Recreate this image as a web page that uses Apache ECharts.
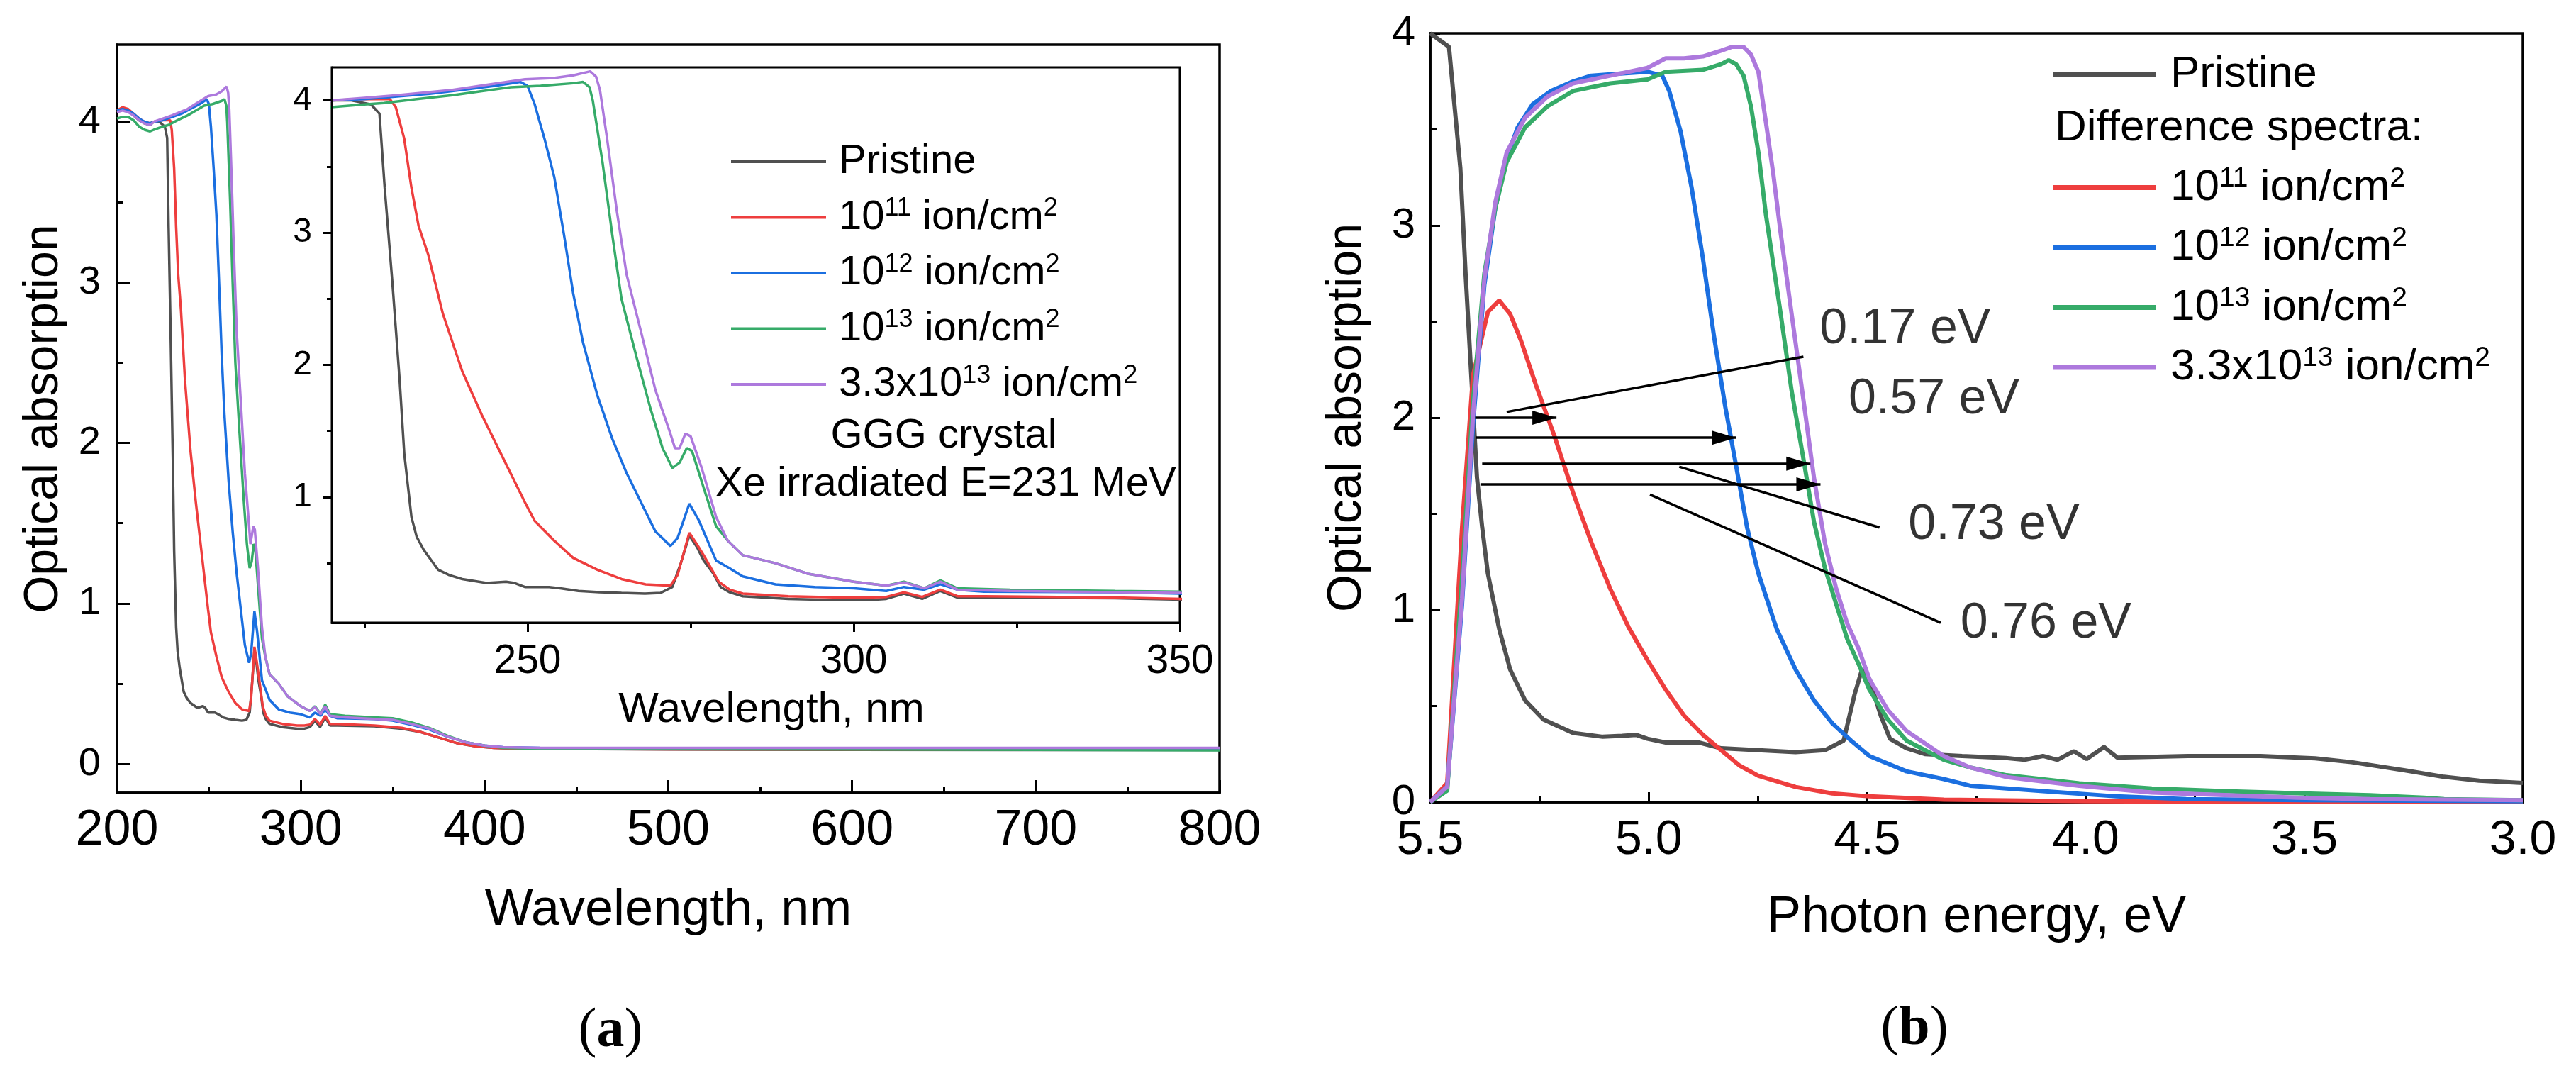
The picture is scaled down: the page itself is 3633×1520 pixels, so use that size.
<!DOCTYPE html>
<html>
<head>
<meta charset="utf-8">
<script src="https://cdn.jsdelivr.net/npm/echarts@6/dist/echarts.min.js"></script>
<style>html,body{margin:0;padding:0;background:#fff}#c{width:3633px;height:1520px}</style>
</head>
<body>
<div id="c"></div>
<script>
// ---------- Data: panel (a), wavelength (nm) vs optical absorption ----------
const pristineNm = [[200,4.06],[203,4.08],[206,4.07],[209,4.04],[212,4.01],[215,3.99],[218,3.98],[220,4.0],[223,4.0],[226,3.97],[227.3,3.9],[228.1,3.34],[229.3,2.61],[230.4,1.88],[231.1,1.33],[232.2,0.85],[233,0.7],[234.1,0.6],[236.3,0.45],[238,0.41],[240,0.38],[243.7,0.35],[246.7,0.36],[248,0.35],[249.6,0.32],[251.5,0.32],[253.3,0.32],[255,0.31],[257.8,0.29],[261,0.28],[264.4,0.275],[268,0.27],[270.4,0.275],[272.2,0.32],[273.5,0.5],[274.8,0.71],[276,0.62],[277,0.52],[278.5,0.42],[279.6,0.32],[281,0.28],[283,0.25],[290,0.23],[298,0.22],[302,0.22],[305,0.23],[307.7,0.27],[310.5,0.23],[313.3,0.29],[315.9,0.24],[320,0.24],[340,0.235],[355,0.22],[365,0.2],[375,0.165],[385,0.13],[395,0.11],[405,0.1],[420,0.095],[500,0.09],[600,0.088],[700,0.087],[800,0.087]];
const ion11Nm = [[200,4.07],[203,4.09],[206,4.08],[209,4.05],[212,4.02],[215,4.0],[218,3.99],[220,4.0],[224,4.01],[228.9,4.01],[229.8,3.95],[231.1,3.71],[232.2,3.34],[233.3,3.05],[234.8,2.83],[237,2.39],[240,1.95],[243,1.62],[245.9,1.33],[249.6,0.96],[251.1,0.82],[254.1,0.67],[257,0.54],[260.7,0.45],[264.4,0.38],[268.1,0.34],[271.9,0.33],[273,0.41],[274.8,0.73],[276,0.64],[277,0.56],[279.3,0.36],[281,0.3],[283,0.27],[290,0.25],[298,0.24],[302,0.24],[305,0.245],[307.7,0.28],[310.5,0.245],[313.3,0.3],[315.9,0.25],[320,0.25],[340,0.24],[355,0.225],[365,0.2],[375,0.165],[385,0.13],[395,0.11],[405,0.1],[420,0.095],[500,0.092],[600,0.09],[700,0.09],[800,0.09]];
const ion12Nm = [[200,4.07],[203,4.08],[206,4.07],[209,4.05],[212,4.02],[215,4.0],[218,3.99],[220,4.0],[225,4.01],[230,4.03],[235,4.05],[240,4.08],[245,4.11],[248.9,4.14],[250,4.11],[251.1,3.97],[252.6,3.71],[254.1,3.42],[255.6,2.98],[257,2.54],[258.5,2.17],[260.7,1.77],[263,1.44],[265.2,1.18],[267.4,0.96],[269.6,0.74],[271.9,0.63],[273,0.69],[274.8,0.95],[276.3,0.82],[278.9,0.52],[280.7,0.47],[283,0.4],[288,0.34],[294,0.32],[300,0.31],[305,0.29],[307.7,0.32],[310.8,0.3],[313.3,0.34],[315.9,0.3],[320,0.285],[340,0.28],[350,0.27],[360,0.245],[370,0.215],[380,0.17],[390,0.135],[400,0.115],[410,0.105],[430,0.1],[500,0.097],[600,0.095],[700,0.095],[800,0.095]];
const ion13Nm = [[200,4.02],[203,4.03],[206,4.03],[209,4.01],[212,3.97],[215,3.95],[218,3.94],[220,3.95],[225,3.97],[228,3.98],[233,4.01],[238.5,4.04],[243,4.07],[247.4,4.1],[252,4.11],[257,4.13],[258.5,4.14],[259.5,4.1],[260,4.0],[261.5,3.53],[263,2.98],[264.4,2.5],[266.7,2.06],[268.9,1.66],[270.7,1.37],[272.2,1.22],[273.3,1.26],[274.4,1.37],[275.2,1.35],[277,1.07],[278.9,0.78],[280.7,0.67],[283,0.56],[288,0.5],[293,0.42],[300,0.36],[305,0.33],[307.7,0.36],[310.8,0.31],[313.3,0.37],[315.9,0.31],[324,0.3],[340,0.29],[350,0.285],[360,0.26],[370,0.225],[380,0.175],[390,0.135],[400,0.115],[410,0.1],[430,0.095],[500,0.093],[600,0.09],[700,0.088],[800,0.085]];
const ion33Nm = [[200,4.06],[203,4.07],[206,4.06],[209,4.04],[212,4.01],[215,3.99],[218,3.98],[220,4.0],[225,4.02],[230,4.04],[238.5,4.08],[244,4.12],[249.6,4.16],[254,4.17],[257,4.19],[259.6,4.22],[260.5,4.18],[261.1,4.08],[262.2,3.71],[263.7,3.16],[265.2,2.68],[267.4,2.25],[269.6,1.81],[271.9,1.48],[272.6,1.37],[273.3,1.37],[274.2,1.48],[275,1.46],[276.7,1.22],[278.9,0.85],[280.7,0.67],[283,0.56],[288,0.5],[293,0.42],[300,0.36],[305,0.33],[307.7,0.355],[310.8,0.31],[313.3,0.36],[315.9,0.3],[324,0.29],[340,0.28],[350,0.275],[360,0.25],[370,0.22],[380,0.17],[390,0.135],[400,0.115],[410,0.105],[430,0.1],[500,0.1],[600,0.1],[700,0.1],[800,0.1]];

// ---------- Data: panel (b), photon energy (eV) vs optical absorption ----------
const pristineEv = [[5.5,4.0],[5.457,3.93],[5.431,3.3],[5.419,2.75],[5.406,2.22],[5.393,1.69],[5.381,1.43],[5.368,1.19],[5.342,0.9],[5.317,0.69],[5.283,0.53],[5.241,0.43],[5.173,0.36],[5.105,0.34],[5.06,0.345],[5.029,0.35],[5.003,0.33],[4.961,0.31],[4.885,0.31],[4.834,0.28],[4.749,0.27],[4.664,0.26],[4.597,0.27],[4.554,0.32],[4.529,0.56],[4.512,0.69],[4.495,0.64],[4.469,0.45],[4.448,0.33],[4.41,0.28],[4.368,0.25],[4.283,0.24],[4.183,0.23],[4.14,0.22],[4.098,0.24],[4.065,0.22],[4.027,0.265],[3.998,0.224],[3.958,0.287],[3.928,0.232],[3.766,0.24],[3.6,0.24],[3.475,0.228],[3.392,0.208],[3.267,0.164],[3.184,0.133],[3.1,0.112],[3.0,0.1]];
const ion11Ev = [[5.5,0.0],[5.461,0.1],[5.427,1.43],[5.402,2.22],[5.368,2.55],[5.342,2.61],[5.317,2.54],[5.292,2.4],[5.258,2.17],[5.215,1.9],[5.173,1.61],[5.131,1.35],[5.088,1.11],[5.046,0.91],[5.003,0.74],[4.961,0.585],[4.919,0.45],[4.876,0.35],[4.834,0.27],[4.792,0.19],[4.749,0.137],[4.664,0.079],[4.58,0.045],[4.495,0.03],[4.325,0.013],[4.0,0.005],[3.5,0.0],[3.0,0.0]];
const ion12Ev = [[5.5,0.0],[5.461,0.08],[5.427,1.03],[5.402,1.96],[5.376,2.69],[5.351,3.09],[5.325,3.35],[5.3,3.51],[5.266,3.63],[5.224,3.7],[5.173,3.75],[5.131,3.78],[5.071,3.79],[5.003,3.8],[4.969,3.78],[4.953,3.7],[4.927,3.49],[4.902,3.2],[4.876,2.83],[4.851,2.43],[4.825,2.06],[4.8,1.75],[4.775,1.43],[4.749,1.19],[4.707,0.9],[4.664,0.69],[4.622,0.53],[4.58,0.41],[4.537,0.32],[4.495,0.24],[4.41,0.16],[4.325,0.12],[4.264,0.085],[4.098,0.057],[3.93,0.03],[3.77,0.016],[3.5,0.01],[3.0,0.005]];
const ion13Ev = [[5.5,0.0],[5.461,0.06],[5.427,1.17],[5.402,2.09],[5.376,2.75],[5.351,3.09],[5.325,3.33],[5.283,3.51],[5.232,3.62],[5.173,3.7],[5.088,3.74],[5.003,3.76],[4.961,3.8],[4.876,3.81],[4.834,3.84],[4.817,3.86],[4.8,3.84],[4.783,3.78],[4.766,3.62],[4.749,3.38],[4.732,3.06],[4.715,2.8],[4.698,2.54],[4.673,2.14],[4.647,1.8],[4.622,1.46],[4.597,1.22],[4.571,1.03],[4.546,0.85],[4.52,0.72],[4.495,0.585],[4.453,0.43],[4.41,0.32],[4.325,0.22],[4.264,0.18],[4.181,0.14],[4.015,0.098],[3.849,0.071],[3.683,0.057],[3.517,0.046],[3.35,0.036],[3.226,0.023],[3.18,0.016],[3.0,0.01]];
const ion33Ev = [[5.5,0.0],[5.461,0.08],[5.427,1.06],[5.402,2.01],[5.376,2.72],[5.351,3.12],[5.325,3.38],[5.283,3.56],[5.232,3.67],[5.173,3.74],[5.088,3.78],[5.003,3.82],[4.961,3.87],[4.919,3.87],[4.876,3.88],[4.834,3.91],[4.809,3.93],[4.783,3.93],[4.766,3.89],[4.749,3.8],[4.732,3.54],[4.715,3.27],[4.698,2.96],[4.673,2.54],[4.647,2.11],[4.622,1.69],[4.597,1.35],[4.571,1.11],[4.546,0.93],[4.52,0.8],[4.495,0.64],[4.453,0.48],[4.41,0.37],[4.325,0.24],[4.264,0.18],[4.18,0.13],[4.015,0.085],[3.849,0.05],[3.683,0.037],[3.517,0.023],[3.35,0.016],[3.0,0.01]];

// ---------- Annotations on panel (b) (data units) ----------
const gapArrows = [[5.397,2.0,5.211,2.0],[5.395,1.896,4.80,1.896],[5.381,1.761,4.63,1.761],[5.385,1.653,4.607,1.653]];
const leaderLines = [[5.325,2.03,4.646,2.317],[4.930,1.745,4.472,1.429],[4.997,1.60,4.332,0.933]];
const gapLabels = [['0.17 eV',4.609,2.457],['0.57 eV',4.543,2.093],['0.73 eV',4.406,1.442],['0.76 eV',4.287,0.928]];

// ---------- Labels / ticks ----------
const legendTexts = ['Pristine','10{s|11} ion/cm{s|2}','10{s|12} ion/cm{s|2}','10{s|13} ion/cm{s|2}','3.3x10{s|13} ion/cm{s|2}'];
const seriesKeys = ['Pristine','1e11','1e12','1e13','3.3e13'];
const colors = ['#505050','#ee3e3e','#1b6fe0','#36ab69','#ad79dd'];
const mainYMajor = [0,1,2,3,4];
const mainYMinor = [0.5,1.5,2.5,3.5];
const insetXMajor = [250,300,350];
const insetXMinor = [225,275,325];
const insetYMajor = [1,2,3,4];
const insetYMinor = [0.5,1.5,2.5,3.5];

const nmData = [pristineNm, ion11Nm, ion12Nm, ion13Nm, ion33Nm];
const evData = [pristineEv, ion11Ev, ion12Ev, ion13Ev, ion33Ev];

const FONT = "'Liberation Sans', Arial, sans-serif";
const SERIF = "'Liberation Serif', 'Times New Roman', serif";
const BLK = '#000';

function txt(size, extra) { return Object.assign({fontSize: size, fontFamily: FONT, color: BLK}, extra || {}); }
function axLine(w) { return {show: true, onZero: false, lineStyle: {color: BLK, width: w}}; }
const noLine = {show: false, onZero: false};

const leftNames = seriesKeys.map(k => 'a:' + k);
const insetNames = seriesKeys.map(k => 'inset:' + k);
const rightNames = seriesKeys.map(k => 'b:' + k);
function legendFmt(name) { return legendTexts[seriesKeys.indexOf(name.split(':')[1])]; }

const series = [];
nmData.forEach((d, i) => series.push({
  name: leftNames[i], type: 'line', xAxisIndex: 0, yAxisIndex: 0, data: d, symbol: 'none', showSymbol: false,
  color: colors[i], lineStyle: {color: colors[i], width: 3.5}, z: 3
}));
nmData.forEach((d, i) => series.push({
  name: insetNames[i], type: 'line', xAxisIndex: 1, yAxisIndex: 2, data: d, symbol: 'none', showSymbol: false,
  color: colors[i], lineStyle: {color: colors[i], width: 3.5}, z: 5
}));
evData.forEach((d, i) => series.push({
  name: rightNames[i], type: 'line', xAxisIndex: 3, yAxisIndex: 4, data: d, symbol: 'none', showSymbol: false,
  color: colors[i], lineStyle: {color: colors[i], width: 6}, z: 3
}));

const mlData = [];
gapArrows.forEach(a => mlData.push([
  {coord: [a[0], a[1]], symbol: 'none'},
  {coord: [a[2], a[3]], symbol: 'triangle', symbolSize: [20, 34]}
]));
leaderLines.forEach(a => mlData.push([
  {coord: [a[0], a[1]], symbol: 'none'},
  {coord: [a[2], a[3]], symbol: 'none'}
]));
series.push({
  name: 'annotations', type: 'scatter', xAxisIndex: 3, yAxisIndex: 4,
  data: gapLabels.map(l => ({name: l[0], value: [l[1], l[2]]})),
  symbolSize: 0, silent: true, z: 6,
  label: {show: true, position: 'right', distance: 0, formatter: p => p.name, fontSize: 70, fontFamily: FONT, color: BLK},
  markLine: {
    silent: true, animation: false,
    symbol: ['none', 'triangle'], symbolSize: [20, 34], symbolOffset: [[0, 0], [0, 17]],
    lineStyle: {color: BLK, width: 3.5, type: 'solid'},
    label: {show: false}, emphasis: {disabled: true},
    data: mlData
  }
});

function legendCfg(names, left, top, iw, ih, gap, fs, lh, sfs, slh, padL) {
  return {
    data: names, orient: 'vertical', left: left, top: top, padding: 0,
    itemWidth: iw, itemHeight: ih, itemGap: gap, selectedMode: false,
    icon: 'rect', symbolKeepAspect: false,
    formatter: legendFmt,
    textStyle: {fontSize: fs, lineHeight: lh, fontFamily: FONT, color: BLK, padding: [0, 0, 0, padL],
      rich: {s: {fontSize: sfs, lineHeight: slh, verticalAlign: 'top', fontFamily: FONT, color: BLK}}}
  };
}

const option = {
  animation: false,
  backgroundColor: '#fff',
  grid: [
    {left: 165, top: 63, width: 1555, height: 1055, show: true, borderColor: BLK, borderWidth: 3.5, backgroundColor: 'rgba(0,0,0,0)', containLabel: false},
    {left: 468, top: 95, width: 1196, height: 783, show: true, borderColor: BLK, borderWidth: 3, backgroundColor: '#fff', z: 4, containLabel: false},
    {left: 2017, top: 47, width: 1541, height: 1084, show: true, borderColor: BLK, borderWidth: 3.5, backgroundColor: 'rgba(0,0,0,0)', containLabel: false}
  ],
  xAxis: [
    {gridIndex: 0, type: 'value', position: 'bottom', min: 200, max: 800, interval: 100,
      axisLine: axLine(3.5), splitLine: {show: false},
      axisTick: {show: true, inside: true, length: 18, lineStyle: {color: BLK, width: 3}},
      minorTick: {show: true, splitNumber: 2, length: 9, lineStyle: {color: BLK, width: 3}},
      axisLabel: txt(70, {margin: 19}),
      name: 'Wavelength, nm', nameLocation: 'middle', nameGap: 130, nameTextStyle: txt(72)},
    {gridIndex: 1, type: 'value', position: 'bottom', min: 220, max: 350, z: 6,
      axisLine: axLine(3), splitLine: {show: false},
      axisTick: {show: true, inside: false, length: 13, customValues: insetXMajor, lineStyle: {color: BLK, width: 3}},
      axisLabel: txt(57, {margin: 27, customValues: insetXMajor}),
      name: 'Wavelength, nm', nameLocation: 'middle', nameGap: 93, nameTextStyle: txt(60, {padding: [0, 0, 0, 44]})},
    {gridIndex: 1, type: 'value', position: 'bottom', min: 220, max: 350, z: 6,
      axisLine: noLine, splitLine: {show: false},
      axisTick: {show: true, inside: false, length: 7, customValues: insetXMinor, lineStyle: {color: BLK, width: 3}},
      axisLabel: {show: false}},
    {gridIndex: 2, type: 'value', position: 'bottom', min: 3, max: 5.5, interval: 0.5, inverse: true,
      axisLine: axLine(3.5), splitLine: {show: false},
      axisTick: {show: true, inside: true, length: 14, lineStyle: {color: BLK, width: 3}},
      minorTick: {show: true, splitNumber: 2, length: 9, lineStyle: {color: BLK, width: 3}},
      axisLabel: txt(68, {margin: 20, formatter: v => v.toFixed(1)}),
      name: 'Photon energy, eV', nameLocation: 'middle', nameGap: 127, nameTextStyle: txt(72)}
  ],
  yAxis: [
    {gridIndex: 0, type: 'value', position: 'left', min: -0.18, max: 4.48,
      axisLine: axLine(3.5), splitLine: {show: false},
      axisTick: {show: true, inside: true, length: 18, customValues: mainYMajor, lineStyle: {color: BLK, width: 3}},
      axisLabel: txt(56, {margin: 23, customValues: mainYMajor}),
      name: 'Optical absorption', nameLocation: 'middle', nameGap: 69, nameRotate: 90, nameTextStyle: txt(68)},
    {gridIndex: 0, type: 'value', position: 'left', min: -0.18, max: 4.48,
      axisLine: noLine, splitLine: {show: false},
      axisTick: {show: true, inside: true, length: 9, customValues: mainYMinor, lineStyle: {color: BLK, width: 3}},
      axisLabel: {show: false}},
    {gridIndex: 1, type: 'value', position: 'left', min: 0.05, max: 4.25, z: 6,
      axisLine: axLine(3), splitLine: {show: false},
      axisTick: {show: true, inside: false, length: 13, customValues: insetYMajor, lineStyle: {color: BLK, width: 3}},
      axisLabel: txt(48, {margin: 28, customValues: insetYMajor})},
    {gridIndex: 1, type: 'value', position: 'left', min: 0.05, max: 4.25, z: 6,
      axisLine: noLine, splitLine: {show: false},
      axisTick: {show: true, inside: false, length: 7, customValues: insetYMinor, lineStyle: {color: BLK, width: 3}},
      axisLabel: {show: false}},
    {gridIndex: 2, type: 'value', position: 'left', min: 0, max: 4, interval: 1,
      axisLine: axLine(3.5), splitLine: {show: false},
      axisTick: {show: true, inside: true, length: 14, lineStyle: {color: BLK, width: 3}},
      minorTick: {show: true, splitNumber: 2, length: 10, lineStyle: {color: BLK, width: 3}},
      axisLabel: txt(60, {margin: 21}),
      name: 'Optical absorption', nameLocation: 'middle', nameGap: 83, nameRotate: 90, nameTextStyle: txt(68)}
  ],
  legend: [
    legendCfg(leftNames, 1031, 198, 134, 4, 18.5, 58, 60, 36, 28, 13),
    legendCfg([rightNames[0]], 2895, 73, 145, 7, 20.5, 62, 64, 39, 31, 16),
    legendCfg(rightNames.slice(1), 2895, 232.6, 145, 7, 20.5, 62, 64, 39, 31, 16)
  ],
  graphic: [
    {type: 'text', z: 10, style: {text: 'GGG crystal', x: 1331, y: 615, fontSize: 58, fontFamily: FONT, fill: BLK, align: 'center', verticalAlign: 'middle'}},
    {type: 'text', z: 10, style: {text: 'Xe irradiated E=231 MeV', x: 1009, y: 683, fontSize: 58, fontFamily: FONT, fill: BLK, align: 'left', verticalAlign: 'middle'}},
    {type: 'text', z: 10, style: {text: 'Difference spectra:', x: 2898, y: 181, fontSize: 62, fontFamily: FONT, fill: BLK, align: 'left', verticalAlign: 'middle'}},
    {type: 'text', z: 10, style: {text: '({b|a})', x: 861, y: 1455, fontSize: 78, fontFamily: SERIF, fill: BLK, align: 'center', verticalAlign: 'middle',
      rich: {b: {fontSize: 78, fontWeight: 'bold', fontFamily: SERIF, fill: BLK}}}},
    {type: 'text', z: 10, style: {text: '({b|b})', x: 2700, y: 1452, fontSize: 78, fontFamily: SERIF, fill: BLK, align: 'center', verticalAlign: 'middle',
      rich: {b: {fontSize: 78, fontWeight: 'bold', fontFamily: SERIF, fill: BLK}}}}
  ],
  series: series
};

const chart = echarts.init(document.getElementById('c'), null, {renderer: 'canvas', width: 3633, height: 1520});
chart.setOption(option);
</script>
</body>
</html>
